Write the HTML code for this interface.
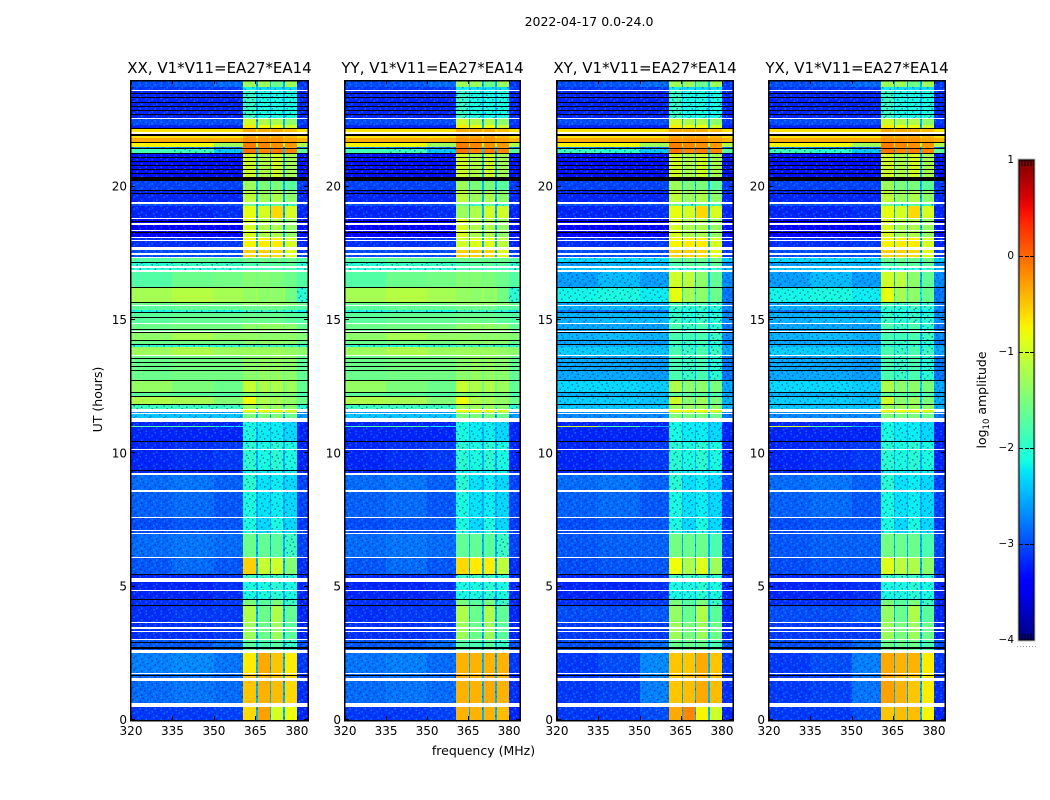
<!DOCTYPE html>
<html>
<head>
<meta charset="utf-8">
<title>2022-04-17 amplitude waterfall</title>
<style>
html,body{margin:0;padding:0;background:#fff;width:1050px;height:800px;overflow:hidden}
svg{display:block}
text{font-family:"DejaVu Sans","Liberation Sans",sans-serif;fill:#000}
</style>
</head>
<body>
<svg id="fig" xmlns="http://www.w3.org/2000/svg" width="1050" height="800" viewBox="0 0 1050 800">
  <defs>
    <pattern id="speckle" patternUnits="userSpaceOnUse" width="15" height="12">
      <g fill="#000f90" fill-opacity="0.5">
        <rect x="1.5" y="0" width="1.5" height="1.5"/>
        <rect x="7.5" y="1.5" width="1.5" height="1.5"/>
        <rect x="12" y="3" width="1.5" height="1.5"/>
        <rect x="4.5" y="4.5" width="1.5" height="1.5"/>
        <rect x="9" y="6" width="1.5" height="1.5"/>
        <rect x="0" y="7.5" width="1.5" height="1.5"/>
        <rect x="13.5" y="9" width="1.5" height="1.5"/>
        <rect x="6" y="10.5" width="1.5" height="1.5"/>
      </g>
      <g fill="#20d0ff" fill-opacity="0.4">
        <rect x="4.5" y="0" width="1.5" height="1.5"/>
        <rect x="10.5" y="1.5" width="1.5" height="1.5"/>
        <rect x="1.5" y="3" width="1.5" height="1.5"/>
        <rect x="13.5" y="4.5" width="1.5" height="1.5"/>
        <rect x="6" y="7.5" width="1.5" height="1.5"/>
        <rect x="3" y="9" width="1.5" height="1.5"/>
        <rect x="10.5" y="10.5" width="1.5" height="1.5"/>
      </g>
    </pattern>
  </defs>
  <rect x="0" y="0" width="1050" height="800" fill="#fff"/>
  <text x="589" y="26" font-size="12.5" text-anchor="middle">2022-04-17 0.0-24.0</text>
  <text x="102" y="399.5" font-size="12.5" text-anchor="middle" transform="rotate(-90 102 399.5)">UT (hours)</text>
  <text x="483.5" y="755" font-size="12.5" text-anchor="middle">frequency (MHz)</text>
  <text x="986" y="400" font-size="12.5" text-anchor="middle" transform="rotate(-90 986 400)">log<tspan dy="3" font-size="8.5">10</tspan><tspan dy="-3"> amplitude</tspan></text>
  <g id="panels"></g>
  <g id="colorbar"></g>
</svg>
<script>
const panelTitles = ["XX, V1*V11=EA27*EA14", "YY, V1*V11=EA27*EA14", "XY, V1*V11=EA27*EA14", "YX, V1*V11=EA27*EA14"];
const xTicks = [320, 335, 350, 365, 380];
const yTicks = [0, 5, 10, 15, 20];
const colorTicks = [1, 0, -1, -2, -3, -4];
const freqRange = [320, 384];
const utRange = [0, 24];
const colorRange = [-4, 1];
/* channel edges in MHz: three low columns, four spectral windows with thin gaps, upper edge */
const freqEdges = [320, 335, 350, 360.6, 365.3, 365.8, 370.2, 370.7, 375, 375.6, 380, 384];
const gapFloor = -2.5;

/* each row: [UT at the top of the row, spectrum name] — bottom to top */
const utRows = [
[0.49,"B0"],[0.64,"W"],[1.46,"B1"],[1.56,"W"],[1.65,"B1"],[1.69,"K"],[1.71,"B1"],[1.75,"W"],[2.51,"B2"],[2.64,"W"],
[2.68,"C"],[2.72,"K"],[2.91,"C"],[2.94,"K"],[3.0,"C"],[3.04,"W"],[3.3,"D"],[3.34,"W"],[3.43,"D"],[3.47,"W"],
[3.62,"D"],[3.66,"W"],[4.28,"D2"],[4.31,"K"],[4.5,"E"],[4.54,"K"],[4.84,"F"],[4.88,"W"],[5.18,"F"],[5.34,"W"],
[5.42,"F2"],[5.46,"K"],[6.08,"G"],[6.11,"W"],[6.98,"H"],[7.01,"W"],[7.09,"I"],[7.13,"W"],[7.59,"I"],[7.63,"W"],
[8.55,"J"],[8.64,"W"],[9.19,"L"],[9.26,"W"],[9.34,"M"],[9.38,"K"],[10.14,"N"],[10.18,"W"],[10.43,"N"],[10.46,"K"],
[10.99,"P"],[11.04,"Q"],[11.17,"P"],[11.34,"W"],[11.48,"R"],[11.51,"W"],[11.55,"S"],[11.63,"T"],[11.66,"W"],[11.81,"U"],
[11.85,"K"],[12.11,"V"],[12.15,"K"],[12.26,"V2"],[12.3,"K"],[12.71,"X1"],[12.75,"K"],[13.09,"X2"],[13.13,"K"],[13.26,"X2"],
[13.29,"K"],[13.39,"X2"],[13.43,"K"],[13.52,"X2"],[13.56,"K"],[13.65,"X2"],[13.69,"W"],[13.99,"Y"],[14.06,"Y2"],[14.1,"K"],
[14.21,"X2"],[14.25,"K"],[14.51,"Z"],[14.55,"K"],[14.59,"W"],[14.64,"X2"],[14.68,"K"],[14.85,"X2"],[14.89,"W"],[15.08,"X3"],
[15.11,"K"],[15.26,"X3"],[15.3,"K"],[15.38,"BL"],[15.54,"X3"],[15.58,"W"],[15.64,"X2"],[15.68,"K"],[16.2,"AA"],[16.24,"K"],
[16.8,"BB"],[16.88,"W"],[16.95,"CC"],[17.04,"W"],[17.14,"DD"],[17.18,"K"],[17.33,"DD2"],[17.36,"W"],[17.44,"EE"],[17.51,"W"],
[17.63,"EE"],[17.74,"W"],[17.96,"FF"],[18.0,"W"],[18.08,"FF"],[18.11,"W"],[18.26,"GG"],[18.3,"K"],[18.34,"GG"],[18.38,"W"],
[18.58,"GG"],[18.62,"W"],[18.68,"GG"],[18.71,"K"],[18.79,"GG"],[18.83,"W"],[19.28,"HH"],[19.35,"II"],[19.43,"W"],[19.73,"JJ"],
[19.76,"K"],[19.84,"JJ"],[19.88,"K"],[20.21,"KK"],[20.36,"K"],[20.48,"MM1"],[20.51,"K"],[20.63,"MM1"],[20.66,"K"],[20.78,"MM1"],
[20.81,"K"],[20.93,"MM1"],[20.96,"K"],[21.08,"MM1"],[21.11,"K"],[21.23,"MM1"],[21.26,"K"],[21.41,"LL"],[21.45,"K"],[21.49,"LB"],
[21.64,"MM"],[21.68,"K"],[21.83,"NN"],[21.9,"OO"],[21.98,"K"],[22.05,"W"],[22.16,"OO"],[22.2,"K"],[22.31,"PP"],[22.54,"QQ"],
[22.58,"W"],[22.69,"RR"],[22.73,"K"],[22.84,"RR"],[22.88,"K"],[22.99,"RR"],[23.03,"K"],[23.14,"RR"],[23.18,"K"],[23.33,"RR"],
[23.36,"K"],[23.48,"RR"],[23.51,"K"],[23.6,"RR"],[23.64,"W"],[23.73,"SS"],[24,"TT"]
];

/* log10 amplitude per spectrum: [low1, low2, low3, window1, window2, window3, window4, upper] */
const xxLevels = {
W:[null,null,null,null,null,null,null,null],
K:[-9,-9,-9,-9,-9,-9,-9,-9],
B0:[-3.1,-3.1,-3.05,-0.6,-0.3,-0.95,-0.8,-3.2],
B1:[-2.85,-2.8,-2.85,-0.5,-0.4,-0.45,-0.6,-3.15],
B2:[-2.75,-2.7,-2.8,-0.7,-0.35,-0.5,-0.7,-3.1],
C:[-2.95,-2.95,-2.85,-1.7,-1.8,-1.7,-1.9,-3],
D:[-3.15,-3.15,-3.1,-1.3,-1.6,-1.3,-1.7,-3.2],
D2:[-3.15,-3.1,-3.1,-1.2,-1.6,-1.2,-1.65,-3.2],
E:[-3.15,-3.15,-3.1,-1.5,-1.7,-1.5,-1.9,-3.2],
F:[-3.2,-3.2,-3.15,-2.1,-2.1,-2,-2.1,-3.2],
F2:[-3.2,-3.2,-3.15,-1.9,-1.9,-1.9,-2,-3.2],
G:[-2.95,-2.85,-2.95,-0.55,-1.05,-1,-1.45,-3.15],
H:[-2.85,-2.8,-2.85,-1.6,-1.65,-1.7,-1.9,-3.05],
I:[-3,-2.95,-2.95,-2.1,-2.3,-2.1,-2.3,-3.1],
J:[-2.9,-2.85,-2.95,-2.1,-2.25,-2.2,-2.3,-3.05],
L:[-2.85,-2.8,-2.9,-2,-2.25,-2.2,-2.3,-3.05],
M:[-3.2,-3.2,-3.2,-2.2,-2.2,-2.2,-2.2,-3.2],
N:[-3.2,-3.15,-3.1,-2,-2.1,-2,-2.1,-3.2],
P:[-3.2,-3.2,-3.2,-2.1,-2.2,-2.2,-2.3,-3.2],
Q:[-1.8,-1.8,-2.2,-2.2,-2.2,-2.2,-2.3,-3.2],
R:[-2.4,-2.4,-2.4,-1.5,-1.5,-1.5,-1.6,-2.6],
S:[-2.6,-2.6,-2.6,-1.3,-1.3,-1.3,-1.4,-2.7],
T:[null,null,null,-0.8,-0.8,-0.8,-0.9,null],
U:[-1.9,-1.9,-1.9,-1.3,-1.3,-1.3,-1.4,-2],
V:[-1.2,-1.25,-1.45,-0.8,-1.2,-1.25,-1.35,-1.6],
V2:[-1.7,-1.7,-1.75,-1.5,-1.5,-1.5,-1.5,-1.8],
X1:[-1.35,-1.5,-1.6,-1.05,-1.2,-1.2,-1.3,-1.65],
X2:[-1.6,-1.55,-1.55,-1.4,-1.35,-1.35,-1.4,-1.65],
Y:[-1.3,-1.2,-1.3,-1.3,-1.3,-1.3,-1.35,-1.4],
Y2:[-2,-2,-2,-1.9,-1.9,-1.9,-1.9,-2],
Z:[-1.4,-1.25,-1.35,-1.35,-1.4,-1.4,-1.4,-1.45],
X3:[-1.7,-1.65,-1.65,-1.6,-1.6,-1.6,-1.7,-1.75],
BL:[-2.1,-2,-2.1,-1.9,-1.9,-1.9,-2,-2.2],
AA:[-1.25,-1.15,-1.25,-1.35,-1.4,-1.4,-1.55,-2],
BB:[-1.75,-1.6,-1.55,-1.45,-1.45,-1.5,-1.6,-1.75],
CC:[-2,-2,-2,-1.8,-1.8,-1.8,-1.8,-2],
DD:[-2,-1.9,-1.9,-1.8,-1.7,-1.7,-1.7,-2],
DD2:[-1.75,-1.65,-1.7,-1.6,-1.6,-1.6,-1.6,-1.75],
EE:[-3,-3,-3,-0.55,-0.55,-0.6,-0.9,-3.1],
FF:[-3.15,-3.15,-3.1,-0.75,-0.7,-0.7,-0.95,-3.2],
GG:[-3.4,-3.4,-3.4,-0.95,-1.2,-1.2,-1.35,-3.3],
HH:[-3.2,-3.2,-3.15,-0.85,-0.95,-0.6,-0.95,-3.2],
II:[-3,-3,-3,-1.6,-1.9,-1.7,-1.9,-3.1],
JJ:[-3.2,-3.2,-3.2,-1.1,-1.3,-1.2,-1.4,-3.2],
KK:[-3.05,-3.05,-3.05,-1.3,-1.5,-1.5,-1.7,-3.1],
MM1:[-3.3,-3.3,-3.3,-1,-1.2,-1,-1.25,-3.3],
LL:[-1.85,-1.9,-2.4,-0.05,-0.15,-0.1,-0.15,-1.7],
LB:[-2.7,-2.8,-2.9,-0.1,-0.2,-0.2,-0.3,-2.8],
MM:[-0.75,-0.8,-1.3,-0.1,-0.15,-0.2,-0.25,-1.2],
NN:[-0.35,-0.35,-0.35,-0.2,-0.2,-0.2,-0.3,-0.4],
OO:[-0.65,-0.65,-0.65,-0.35,-0.35,-0.35,-0.45,-0.65],
PP:[-3.2,-3.2,-3.2,-0.7,-0.8,-0.8,-1,-3.2],
QQ:[-3,-3,-3,-1,-1.2,-1.2,-1.4,-3.1],
RR:[-3.2,-3.2,-3.2,-1.9,-2.1,-2.1,-2.1,-3.2],
SS:[-3.1,-3.1,-3.1,-2.2,-2.3,-2.3,-2.3,-3.1],
TT:[-3,-2.95,-2.85,-1.3,-1.3,-1.6,-1.3,-3.1]
};
const yyLevels = Object.assign({}, xxLevels, {
B0:[-3.1,-3.1,-3.05,-0.4,-0.4,-0.4,-0.45,-3.2],
B1:[-2.85,-2.8,-2.85,-0.4,-0.4,-0.35,-0.4,-3.15],
B2:[-2.8,-2.75,-2.85,-0.4,-0.4,-0.4,-0.4,-3.1],
G:[-2.95,-2.85,-2.95,-0.6,-0.7,-0.7,-1.1,-3.15],
H:[-2.85,-2.8,-2.85,-1.65,-1.65,-1.7,-1.9,-3.05],
HH:[-3.2,-3.2,-3.15,-1.3,-1.2,-1.0,-1.0,-3.2],
FF:[-3.15,-3.15,-3.1,-1.0,-0.9,-0.9,-1.1,-3.2]
});
const xyLevels = Object.assign({}, xxLevels, {
B0:[-3.1,-3.1,-3,-0.35,-0.15,-0.75,-1.0,-3.2],
B1:[-3.1,-3.05,-2.75,-0.5,-0.45,-0.35,-0.45,-3.15],
B2:[-3.1,-3,-2.7,-0.5,-0.5,-0.35,-0.5,-3.1],
C:[-3,-3,-2.85,-1.6,-1.6,-1.6,-1.8,-3],
D:[-3.1,-3.1,-3.1,-1.3,-1.5,-1.3,-1.6,-3.2],
D2:[-3,-3,-2.95,-1.35,-1.6,-1.2,-1.7,-3.2],
G:[-3,-2.95,-2.95,-0.8,-1.2,-0.9,-1.3,-3.15],
H:[-2.95,-2.9,-2.9,-1.55,-1.6,-1.6,-1.8,-3.05],
Q:[-1.0,-1.8,-2.5,-2.2,-2.2,-2.2,-2.3,-3.2],
R:[-2.7,-2.7,-2.7,-1.5,-1.5,-1.5,-1.6,-2.8],
U:[-2.4,-2.4,-2.4,-1.3,-1.3,-1.3,-1.4,-2.5],
V:[-2.35,-2.35,-2.4,-1,-1.4,-1.3,-1.5,-2.5],
V2:[-2.5,-2.5,-2.5,-1.7,-1.7,-1.7,-1.8,-2.6],
X1:[-2.3,-2.3,-2.35,-1.2,-1.4,-1.4,-1.5,-2.55],
X2:[-2.55,-2.55,-2.6,-1.8,-1.9,-1.8,-2,-2.8],
Y:[-2.35,-2.35,-2.4,-1.8,-1.9,-1.8,-1.9,-2.55],
Y2:[-2.5,-2.5,-2.5,-2,-2,-2,-2.1,-2.6],
Z:[-2.5,-2.45,-2.5,-1.8,-1.85,-1.8,-1.9,-2.7],
X3:[-2.5,-2.45,-2.45,-1.9,-2,-1.9,-2,-2.7],
BL:[-2.8,-2.8,-2.8,-2.1,-2.1,-2.1,-2.2,-2.9],
AA:[-2.15,-2.1,-2.2,-0.85,-1.25,-1.4,-1.6,-2.8],
BB:[-2.6,-2.45,-2.6,-1.0,-1.1,-1.4,-1.65,-2.7],
CC:[-2.4,-2.4,-2.4,-2,-2,-2,-2,-2.5],
DD:[-2.6,-2.5,-2.5,-1.8,-1.7,-1.7,-1.7,-2.7],
DD2:[-2.3,-2.3,-2.3,-1.6,-1.6,-1.6,-1.6,-2.4],
LL:[-1.9,-2,-2.4,-0.05,-0.15,-0.1,-0.15,-1.7]
});
const yxLevels = Object.assign({}, xyLevels, {
B0:[-3.1,-3.1,-3,-0.5,-0.45,-0.45,-0.75,-3.2],
B1:[-3.1,-3.05,-2.8,-0.3,-0.4,-0.5,-0.7,-3.15],
B2:[-3.1,-3,-2.75,-0.35,-0.4,-0.4,-0.7,-3.1],
G:[-3,-2.95,-2.95,-0.9,-1.1,-1.2,-1.4,-3.15]
});
const panelLevels = [xxLevels, yyLevels, xyLevels, yxLevels];

const NS = "http://www.w3.org/2000/svg";
const panelBoxes = [[131, 308], [345, 520], [557, 733], [769, 945]];
const plotTop = 80, plotBottom = 720;
const cbLeft = 1019, cbRight = 1034, cbTop = 160, cbBottom = 640;
const speckleCeiling = -1.85;

function xScale(box, f) { return box[0] + (f - freqRange[0]) * (box[1] - box[0]) / (freqRange[1] - freqRange[0]); }
function yScale(t) { return plotBottom - (t - utRange[0]) * (plotBottom - plotTop) / (utRange[1] - utRange[0]); }
function cbScale(v) { return cbBottom - (v - colorRange[0]) * (cbBottom - cbTop) / (colorRange[1] - colorRange[0]); }

function interp(stops, x) {
  for (let i = 1; i < stops.length; i++) {
    if (x <= stops[i][0]) {
      const a = stops[i - 1], b = stops[i];
      return a[1] + (b[1] - a[1]) * (x - a[0]) / (b[0] - a[0]);
    }
  }
  return stops[stops.length - 1][1];
}
const jetR = [[0, 0], [0.35, 0], [0.66, 1], [0.89, 1], [1, 0.5]];
const jetG = [[0, 0], [0.125, 0], [0.375, 1], [0.64, 1], [0.91, 0], [1, 0]];
const jetB = [[0, 0.5], [0.11, 1], [0.34, 1], [0.65, 0], [1, 0]];
function jet(x) {
  x = Math.max(0, Math.min(1, x));
  return "rgb(" + Math.round(interp(jetR, x) * 255) + "," + Math.round(interp(jetG, x) * 255) + "," + Math.round(interp(jetB, x) * 255) + ")";
}
function colour(v) {
  if (v < colorRange[0]) return "#000";
  return jet((v - colorRange[0]) / (colorRange[1] - colorRange[0]));
}
function spectrumColumns(s) {
  const low = s[2];
  let gap = low;
  if (low !== null && low >= colorRange[0]) gap = Math.max(low, gapFloor);
  return [s[0], s[1], s[2], s[3], gap, s[4], gap, s[5], gap, s[6], s[7]];
}
function line(parent, x1, y1, x2, y2, name) {
  const el = document.createElementNS(NS, "line");
  el.setAttribute("x1", x1);
  el.setAttribute("y1", y1);
  el.setAttribute("x2", x2);
  el.setAttribute("y2", y2);
  el.setAttribute("stroke", "#000");
  el.setAttribute("stroke-width", "1");
  el.setAttribute("shape-rendering", "crispEdges");
  
  
  parent.appendChild(el);
  return el;
}
function label(parent, x, y, str, size, anchor, name) {
  const el = document.createElementNS(NS, "text");
  el.setAttribute("x", x);
  el.setAttribute("y", y);
  el.setAttribute("font-size", size);
  el.setAttribute("text-anchor", anchor);
  
  
  el.textContent = str;
  parent.appendChild(el);
  return el;
}
function fmtTick(v) { return v < 0 ? "\u2212" + Math.abs(v) : String(v); }

const panelsRoot = document.getElementById("panels");
panelBoxes.forEach(function (box, p) {
  const g = document.createElementNS(NS, "g");
  
  
  panelsRoot.appendChild(g);
  const levels = panelLevels[p];
  let prev = utRange[0];
  utRows.forEach(function (row) {
    const cols = spectrumColumns(levels[row[1]]);
    const y0 = Math.round(yScale(row[0]));
    const y1 = Math.round(yScale(prev));
    prev = row[0];
    cols.forEach(function (v, c) {
      if (v === null) return;
      const x0 = Math.round(xScale(box, freqEdges[c]));
      const x1 = Math.round(xScale(box, freqEdges[c + 1]));
      const r = document.createElementNS(NS, "rect");
      r.setAttribute("x", x0);
      r.setAttribute("y", y0);
      r.setAttribute("width", Math.max(1, x1 - x0));
      r.setAttribute("height", Math.max(1, y1 - y0));
      r.setAttribute("fill", colour(v));
      r.setAttribute("shape-rendering", "crispEdges");
      
      
      g.appendChild(r);
      if (v >= colorRange[0] && v < speckleCeiling) {
        const n = document.createElementNS(NS, "rect");
        n.setAttribute("x", x0);
        n.setAttribute("y", y0);
        n.setAttribute("width", Math.max(1, x1 - x0));
        n.setAttribute("height", Math.max(1, y1 - y0));
        n.setAttribute("fill", "url(#speckle)");
        n.setAttribute("shape-rendering", "crispEdges");
        
        
        g.appendChild(n);
      }
    });
  });
  const frame = document.createElementNS(NS, "rect");
  frame.setAttribute("x", box[0] - 0.5);
  frame.setAttribute("y", plotTop + 0.5);
  frame.setAttribute("width", box[1] - box[0] + 0.5);
  frame.setAttribute("height", plotBottom - plotTop);
  frame.setAttribute("fill", "none");
  frame.setAttribute("stroke", "#000");
  frame.setAttribute("stroke-width", "1.5");
  frame.setAttribute("shape-rendering", "crispEdges");
  
  
  g.appendChild(frame);
  xTicks.forEach(function (f) {
    const x = Math.round(xScale(box, f)) + 0.5;
    line(g, x, plotBottom, x, plotBottom - 4, "x-tick");
    line(g, x, plotTop, x, plotTop + 4, "x-tick-top");
    label(g, xScale(box, f), plotBottom + 15, String(f), 12, "middle", "x-tick-label");
  });
  yTicks.forEach(function (t) {
    const y = Math.round(yScale(t)) - 0.5;
    line(g, box[0], y, box[0] + 4, y, "y-tick");
    line(g, box[1], y, box[1] - 4, y, "y-tick-right");
    label(g, box[0] - 4, yScale(t) + 4, String(t), 12, "end", "y-tick-label");
  });
  label(g, (box[0] + box[1]) / 2, 73, panelTitles[p], 15, "middle", "panel-title");
});

const cb = document.getElementById("colorbar");
const gradDefs = document.createElementNS(NS, "defs");
const grad = document.createElementNS(NS, "linearGradient");
grad.setAttribute("id", "jetGradient");
grad.setAttribute("x1", "0");
grad.setAttribute("y1", "1");
grad.setAttribute("x2", "0");
grad.setAttribute("y2", "0");
for (let i = 0; i <= 40; i++) {
  const s = document.createElementNS(NS, "stop");
  s.setAttribute("offset", i / 40);
  s.setAttribute("stop-color", jet(i / 40));
  grad.appendChild(s);
}
gradDefs.appendChild(grad);
cb.appendChild(gradDefs);
const halo = document.createElementNS(NS, "rect");
halo.setAttribute("x", cbLeft - 1);
halo.setAttribute("y", cbTop - 1);
halo.setAttribute("width", cbRight - cbLeft + 2);
halo.setAttribute("height", cbBottom - cbTop + 2);
halo.setAttribute("fill", "none");
halo.setAttribute("stroke", "#bbb");


cb.appendChild(halo);
const bar = document.createElementNS(NS, "rect");
bar.setAttribute("x", cbLeft);
bar.setAttribute("y", cbTop);
bar.setAttribute("width", cbRight - cbLeft);
bar.setAttribute("height", cbBottom - cbTop);
bar.setAttribute("fill", "url(#jetGradient)");
bar.setAttribute("stroke", "#000");
bar.setAttribute("stroke-width", "1");


cb.appendChild(bar);
colorTicks.forEach(function (v) {
  const y = Math.round(cbScale(v)) + 0.5;
  if (v < 1 && v > -4) {
    line(cb, cbLeft, y, cbLeft + 4, y, "colorbar-tick");
    line(cb, cbLeft + 6, y, cbLeft + 10, y, "colorbar-tick");
    line(cb, cbRight - 4, y, cbRight, y, "colorbar-tick");
  }
  label(cb, cbLeft - 5, cbScale(v) + 3, fmtTick(v), 10.5, "end", "colorbar-tick-label");
});
[3, 6, 9, 12].forEach(function (dx) {
  line(cb, cbLeft + dx, cbTop, cbLeft + dx, cbTop + 6, "colorbar-minor-tick");
  line(cb, cbLeft + dx, cbBottom, cbLeft + dx, cbBottom - 6, "colorbar-minor-tick");
});
[1017, 1020, 1023, 1026, 1029, 1032, 1035].forEach(function (x) {
  const d = document.createElementNS(NS, "rect");
  d.setAttribute("x", x);
  d.setAttribute("y", 646);
  d.setAttribute("width", 1);
  d.setAttribute("height", 1);
  d.setAttribute("fill", "#999");
  
  
  cb.appendChild(d);
});
</script>
</body>
</html>
